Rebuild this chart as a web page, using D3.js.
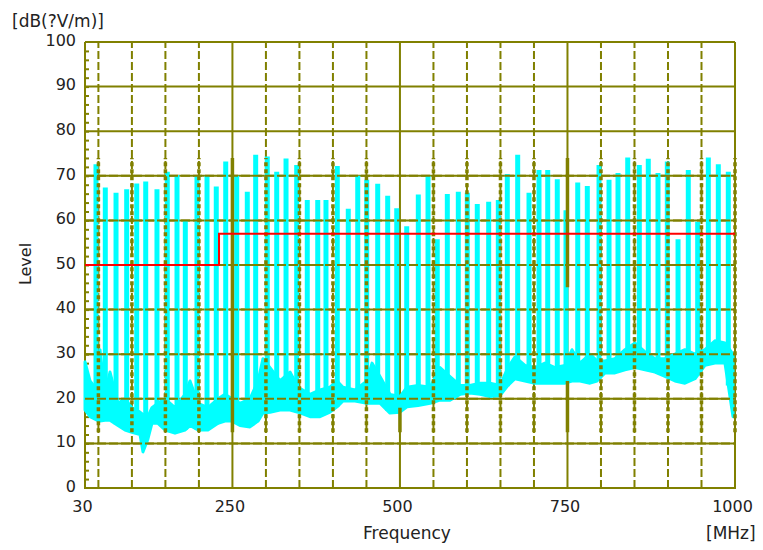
<!DOCTYPE html>
<head>
  <meta charset="utf-8">
  <script src="https://d3js.org/d3.v7.min.js"></script>
  <style>
    body { margin:0; background:#fff; }
    .lbl { font-family: 'DejaVu Sans', sans-serif; font-size: 16px; fill: #222; }
    .axis text { font-family: 'DejaVu Sans', sans-serif; font-size: 16px; fill: #222; }
  </style>
</head>
<body>
<script>
  // peak frequencies (MHz) and peak levels (dB) of the emission spikes
  const peakFreq = [46.4, 60.3, 76.3, 92.2, 107.2, 120.6, 137.4, 152.8, 167.3, 179.7,
                    197.1, 212.1, 225.9, 240.0, 256.4, 272.2, 284.7, 302.0, 316.1, 330.0,
                    345.9, 361.7, 377.3, 389.6, 406.5, 422.9, 437.0, 450.4, 466.8, 481.7,
                    495.2, 510.1, 527.4, 541.9, 555.7, 570.7, 587.1, 600.5, 615.4, 632.4,
                    646.8, 660.2, 675.7, 692.6, 707.5, 720.5, 734.8, 747.8, 765.3, 779.6,
                    797.1, 812.0, 825.4, 839.9, 857.2, 870.6, 885.1, 899.0, 915.0, 930.3,
                    944.3, 960.2, 975.1, 990.0];
  const peakLevel = [72.6, 67.4, 66.2, 67.0, 68.3, 68.7, 67.0, 70.9, 70.2, 60.1,
                     70.2, 70.0, 67.6, 73.2, 70.0, 66.4, 74.7, 74.3, 70.9, 73.9,
                     72.4, 64.6, 64.6, 64.6, 72.2, 62.6, 70.0, 69.1, 68.2, 65.5,
                     62.7, 58.7, 65.8, 70.0, 55.8, 65.9, 66.4, 66.2, 63.7, 64.2,
                     64.6, 70.4, 74.7, 66.2, 71.3, 71.3, 69.2, 62.3, 68.5, 67.7,
                     72.4, 69.1, 70.6, 74.1, 72.4, 73.8, 70.6, 73.2, 55.8, 71.3,
                     59.7, 74.1, 72.6, 70.9];

  // noise floor band: frequency, lower and upper edge (dB)
  const floorFreq = [30, 37.5, 47.9, 52.4, 59.8, 67.3, 79.2, 89.7, 100.1, 112.1,
                     116.5, 123.9, 129.9, 138.9, 149.4, 164.3, 179.2, 186.7, 198.6, 213.5,
                     228.5, 238.9, 249.4, 261.3, 276.2, 288.2, 295.6, 306.1, 321.0, 335.9,
                     347.9, 365.8, 380.7, 395.6, 406.1, 415.0, 432.9, 450.8, 458.3, 470.2,
                     485.1, 500.1, 510.5, 527.0, 544.9, 559.8, 574.7, 589.6, 604.5, 619.5,
                     634.4, 649.3, 661.2, 671.7, 686.6, 701.5, 716.4, 731.4, 746.3, 756.7,
                     768.7, 783.6, 794.1, 806.0, 820.9, 835.8, 850.8, 865.7, 880.6, 895.5,
                     910.4, 925.3, 940.3, 955.2, 970.1, 985.0, 997.0];
  const floorLo = [17.5, 16.0, 15.2, 15.0, 15.2, 15.2, 14.0, 13.0, 12.5, 12.0,
                   8.1, 11.0, 14.5, 14.5, 13.0, 12.3, 13.0, 14.0, 13.0, 13.0,
                   14.5, 15.0, 15.0, 14.0, 13.7, 15.0, 16.8, 17.0, 17.5, 17.5,
                   17.0, 16.0, 16.0, 17.0, 18.2, 19.5, 19.5, 19.0, 19.0, 19.0,
                   16.8, 17.0, 18.2, 18.5, 19.0, 19.7, 19.7, 21.0, 21.3, 21.0,
                   20.5, 20.7, 23.0, 24.5, 24.0, 23.5, 23.5, 23.5, 23.5, 24.0,
                   24.0, 23.5, 24.0, 25.8, 25.8, 26.5, 27.0, 26.5, 26.0, 25.0,
                   24.0, 23.5, 24.5, 27.5, 28.0, 28.0, 16.0];
  const floorHi = [28.3, 24.0, 22.0, 31.0, 21.0, 26.0, 19.0, 20.0, 18.0, 17.0,
                   16.5, 16.0, 18.0, 19.0, 20.0, 18.0, 21.0, 24.0, 19.0, 18.0,
                   20.0, 21.0, 20.0, 19.0, 20.0, 24.0, 29.0, 27.0, 24.0, 26.0,
                   22.6, 21.0, 22.0, 22.6, 24.0, 22.6, 22.0, 24.0, 28.0, 25.0,
                   21.0, 20.5, 22.6, 23.0, 22.6, 27.0, 25.0, 23.0, 23.0, 23.5,
                   23.5, 23.0, 27.0, 29.4, 27.5, 27.0, 28.0, 27.0, 27.5, 31.0,
                   28.0, 30.0, 28.5, 28.5, 29.0, 31.0, 32.5, 30.5, 29.0, 29.0,
                   30.0, 31.0, 30.0, 31.0, 33.0, 32.5, 30.0];

  // limit line (MHz, dB)
  const limitFreq = [30, 230, 230, 1000];
  const limitLevel = [50, 50, 57, 57];

  const xTicks = [30, 250, 500, 750, 1000];
  const yTicks = [0, 10, 20, 30, 40, 50, 60, 70, 80, 90, 100];
  const solidFreqs = [250, 500, 750];

  const olive = '#808000';

  const svg = d3.select('body').append('svg')
      .attr('width', 763).attr('height', 550);

  const x = d3.scaleLinear().domain([30, 1000]).range([85, 735]);
  const y = d3.scaleLinear().domain([0, 100]).range([488, 42]);

  const gridFreqs = d3.range(50, 1000, 50);

  // base grid
  const grid = svg.append('g');
  grid.selectAll('.hgrid')
    .data(yTicks.slice(1))
    .enter().append('line')
    .attr('x1', x(30)).attr('x2', x(1000))
    .attr('y1', d => y(d)).attr('y2', d => y(d))
    .style('stroke', olive).style('stroke-width', 2);

  grid.selectAll('.vgrid')
    .data(gridFreqs)
    .enter().append('line')
    .attr('x1', d => x(d)).attr('x2', d => x(d))
    .attr('y1', y(0)).attr('y2', y(100))
    .style('stroke', olive).style('stroke-width', 2)
    .style('stroke-dasharray', d => solidFreqs.includes(d) ? null : '8,3');

  // frame
  grid.append('line').attr('x1', x(30)).attr('x2', x(30)).attr('y1', y(0)).attr('y2', y(100))
    .style('stroke', olive).style('stroke-width', 2);
  grid.append('line').attr('x1', x(1000)).attr('x2', x(1000)).attr('y1', y(0)).attr('y2', y(100))
    .style('stroke', olive).style('stroke-width', 2);
  grid.append('line').attr('x1', x(30) - 1).attr('x2', x(1000) + 1).attr('y1', y(0)).attr('y2', y(0))
    .style('stroke', olive).style('stroke-width', 2);

  // minor ticks on the level axis
  const minor = svg.append('g')
    .attr('transform', `translate(${x(30)},0)`)
    .call(d3.axisRight(y).tickValues(d3.range(2, 100, 2)).tickSize(4).tickFormat(''));
  minor.select('.domain').remove();
  minor.selectAll('line').style('stroke', olive).style('stroke-width', 2);

  // measured trace
  const trace = svg.append('g');
  const floorData = floorFreq.map((f, i) => ({f: f, lo: floorLo[i], hi: floorHi[i]}));
  trace.append('path')
    .datum(floorData)
    .attr('d', d3.area().x(d => x(d.f)).y0(d => y(d.lo)).y1(d => y(d.hi)))
    .style('fill', '#00ffff')
    .style('stroke', '#00ffff')
    .style('stroke-width', 3)
    .style('stroke-linejoin', 'round');

  // floor base under each spike
  const baseAt = d3.scaleLinear().domain(floorFreq).range(floorLo);
  trace.selectAll('.spike')
    .data(peakFreq.map((f, i) => ({f: f, v: peakLevel[i]})))
    .enter().append('line')
    .attr('x1', d => x(d.f)).attr('x2', d => x(d.f))
    .attr('y1', d => y(baseAt(d.f))).attr('y2', d => y(d.v))
    .style('stroke', '#00ffff')
    .style('stroke-width', 5);

  // grid drawn over the trace
  const over = svg.append('g');
  over.selectAll('.hover')
    .data(yTicks.slice(1, 8))
    .enter().append('line')
    .attr('x1', x(30)).attr('x2', x(1000))
    .attr('y1', d => y(d)).attr('y2', d => y(d))
    .style('stroke', olive).style('stroke-width', 2)
    .style('stroke-dasharray', '9,3');

  over.selectAll('.vdot')
    .data(gridFreqs.filter(d => !solidFreqs.includes(d)).concat([1000]))
    .enter().append('line')
    .attr('x1', d => x(d)).attr('x2', d => x(d))
    .attr('y1', y(12.5)).attr('y2', y(74))
    .style('stroke', olive).style('stroke-width', 3.5)
    .style('stroke-dasharray', '4,3');

  const thickSeg = [[250, 12.5, 74], [500, 12.5, 18], [750, 45, 74], [750, 12.5, 24]];
  over.selectAll('.vthick')
    .data(thickSeg)
    .enter().append('line')
    .attr('x1', d => x(d[0])).attr('x2', d => x(d[0]))
    .attr('y1', d => y(d[1])).attr('y2', d => y(d[2]))
    .style('stroke', olive).style('stroke-width', 3.5);

  // limit line
  svg.append('path')
    .datum(limitFreq.map((f, i) => [f, limitLevel[i]]))
    .attr('d', d3.line().x(d => x(d[0])).y(d => y(d[1])))
    .style('fill', 'none')
    .style('stroke', '#ff0000')
    .style('stroke-width', 2);

  // axes labels
  const yAxis = svg.append('g')
    .attr('class', 'axis')
    .attr('transform', 'translate(76,0)')
    .call(d3.axisLeft(y).tickValues(yTicks).tickSize(0).tickPadding(0));
  yAxis.select('.domain').remove();
  yAxis.selectAll('text').attr('dy', '0.2em');

  const xAxis = svg.append('g')
    .attr('class', 'axis')
    .attr('transform', 'translate(-3,501)')
    .call(d3.axisBottom(x).tickValues(xTicks).tickSize(0).tickPadding(0).tickFormat(d3.format('d')));
  xAxis.select('.domain').remove();

  svg.append('text').attr('class', 'lbl')
    .attr('x', 12).attr('y', 27)
    .style('font-size', '17px')
    .text('[dB(?V/m)]');

  svg.append('text').attr('class', 'lbl')
    .attr('transform', 'translate(31,264) rotate(-90)')
    .attr('text-anchor', 'middle')
    .text('Level');

  svg.append('text').attr('class', 'lbl')
    .attr('x', 407).attr('y', 539)
    .attr('text-anchor', 'middle')
    .style('font-size', '17px')
    .text('Frequency');

  svg.append('text').attr('class', 'lbl')
    .attr('x', 706).attr('y', 539)
    .style('font-size', '17px')
    .text('[MHz]');
</script>
</body>
